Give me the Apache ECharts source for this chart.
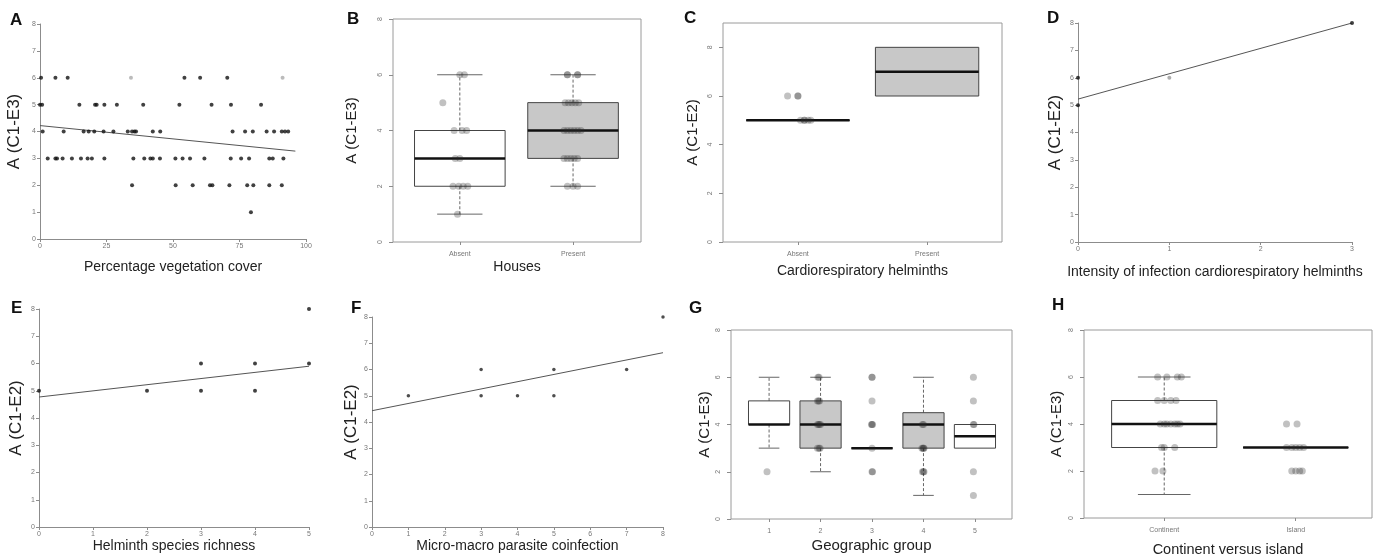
<!DOCTYPE html>
<html>
<head>
<meta charset="utf-8">
<script src="https://cdn.jsdelivr.net/npm/echarts@6/dist/echarts.min.js"></script>
<style>
  html, body { margin: 0; padding: 0; background: #fff; }
  #main { width: 1389px; height: 558px; }
</style>
</head>
<body>
<div id="main"></div>
<script>
// ---- data ----
// A: vegetation cover (%) vs A (C1-E3)
var aCover = [0.4, 5.8, 10.4, 54.3, 60.2, 70.4,
  0, 0.8, 14.8, 20.7, 21.3, 24.2, 28.9, 38.8, 52.4, 64.5, 71.8, 83.1,
  1.0, 8.9, 16.4, 18.3, 20.4, 23.9, 27.6, 33.0, 34.6, 35.5, 36.1, 42.4, 45.2, 72.4, 77.1, 80.0, 85.2, 88.0, 90.9, 92.1, 93.3,
  2.9, 5.8, 6.4, 8.5, 12.0, 15.4, 17.9, 19.5, 24.2, 35.1, 39.2, 41.5, 42.4, 45.1, 50.9, 53.6, 56.4, 61.8, 71.7, 75.6, 78.6, 86.2, 87.5, 91.5,
  34.6, 51.0, 57.4, 63.9, 64.8, 71.2, 77.9, 80.2, 86.2, 90.9,
  79.3];
var aScore = [6, 6, 6, 6, 6, 6,
  5, 5, 5, 5, 5, 5, 5, 5, 5, 5, 5, 5,
  4, 4, 4, 4, 4, 4, 4, 4, 4, 4, 4, 4, 4, 4, 4, 4, 4, 4, 4, 4, 4,
  3, 3, 3, 3, 3, 3, 3, 3, 3, 3, 3, 3, 3, 3, 3, 3, 3, 3, 3, 3, 3, 3, 3, 3,
  2, 2, 2, 2, 2, 2, 2, 2, 2, 2,
  1];
var aFaintCover = [34.2, 91.2];
var aFaintScore = [6, 6];
var aFit = [[0, 4.22], [96, 3.27]];

// B: houses
var bCats = ['Absent', 'Present'];
var bBox = [[1, 2, 3, 4, 6], [2, 3, 4, 5, 6]];   // min, q1, median, q3, max
var bDots = [
  [[0.0, 6], [0.04, 6], [-0.15, 5], [-0.05, 4], [0.02, 4], [0.06, 4], [-0.04, 3], [0.0, 3],
   [-0.06, 2], [-0.01, 2], [0.03, 2], [0.07, 2], [-0.02, 1]],
  [[-0.05, 6], [-0.05, 6], [0.04, 6], [0.04, 6], [-0.07, 5], [-0.04, 5], [-0.01, 5], [0.02, 5], [0.05, 5],
   [-0.08, 4], [-0.05, 4], [-0.02, 4], [0.01, 4], [0.04, 4], [0.07, 4],
   [-0.08, 3], [-0.05, 3], [-0.02, 3], [0.01, 3], [0.04, 3], [-0.05, 2], [0.0, 2], [0.04, 2]]
];

// C: cardiorespiratory helminths
var cCats = ['Absent', 'Present'];
var cBox = [[5, 5, 5, 5, 5], [6, 6, 7, 8, 8]];
var cDots = [
  [[-0.08, 6], [0.0, 6], [0.0, 6], [0.02, 5], [0.05, 5], [0.05, 5], [0.08, 5], [0.1, 5]],
  []
];

// D: intensity of infection
var dCount = [0, 0, 3];
var dScore = [5, 6, 8];
var dFaintCount = [1];
var dFaintScore = [6];
var dFit = [[0, 5.22], [3, 8.0]];

// E: helminth species richness
var eRich = [0, 2, 3, 3, 4, 4, 5, 5];
var eScore = [5, 5, 6, 5, 6, 5, 8, 6];
var eFit = [[0, 4.77], [5, 5.9]];

// F: micro-macro coinfection
var fCoinf = [1, 3, 3, 4, 5, 5, 7, 8];
var fScore = [5, 6, 5, 5, 6, 5, 6, 8];
var fFit = [[0, 4.43], [8, 6.64]];

// G: geographic group
var gCats = ['1', '2', '3', '4', '5'];
var gBox = [[3, 4, 4, 5, 6], [2, 3, 4, 5, 6], [3, 3, 3, 3, 3], [1, 3, 4, 4.5, 6], [3, 3, 3.5, 4, 4]];
var gDots = [
  [[-0.04, 2]],
  [[-0.05, 6], [-0.03, 6], [-0.06, 5], [-0.04, 5], [-0.02, 5], [-0.06, 4], [-0.04, 4], [-0.02, 4], [0.0, 4],
   [-0.06, 3], [-0.03, 3], [-0.01, 3]],
  [[0.0, 6], [0.0, 6], [0.0, 5], [-0.01, 4], [0.0, 4], [0.01, 4], [0.0, 3], [0.0, 2], [0.01, 2]],
  [[-0.02, 4], [0.0, 4], [-0.03, 3], [-0.01, 3], [0.0, 3], [0.01, 3], [-0.02, 2], [0.0, 2], [0.01, 2]],
  [[-0.03, 6], [-0.03, 5], [-0.03, 4], [-0.02, 4], [-0.03, 2], [-0.03, 1]]
];

// H: continent versus island
var hCats = ['Continent', 'Island'];
var hBox = [[1, 3, 4, 5, 6], [3, 3, 3, 3, 3]];
var hDots = [
  [[-0.05, 6], [0.02, 6], [0.1, 6], [0.13, 6], [-0.05, 5], [0.0, 5], [0.05, 5], [0.09, 5],
   [-0.03, 4], [0.0, 4], [0.02, 4], [0.05, 4], [0.08, 4], [0.1, 4], [0.12, 4],
   [-0.02, 3], [0.0, 3], [0.08, 3], [-0.07, 2], [-0.01, 2]],
  [[-0.07, 4], [0.01, 4], [-0.07, 3], [-0.03, 3], [0.0, 3], [0.03, 3], [0.06, 3],
   [-0.03, 2], [0.0, 2], [0.03, 2], [0.05, 2]]
];

// ---- helpers ----
var FONT = 'Liberation Sans, Arial, sans-serif';
var AXIS_GREY = '#8c8c8c';

function zip(xs, ys) {
  return xs.map(function (x, i) { return [x, ys[i]]; });
}

function plainAxis(gi, min, max, interval, name, gap, nameSize, extra) {
  var ax = {
    type: 'value', gridIndex: gi, min: min, max: max, interval: interval,
    splitLine: { show: false },
    axisLine: { show: true, lineStyle: { color: AXIS_GREY, width: 1 } },
    axisTick: { show: true, length: 3, lineStyle: { color: AXIS_GREY } },
    axisLabel: { fontSize: 7, color: '#777', fontFamily: FONT, margin: 4 },
    name: name, nameLocation: 'middle', nameGap: gap,
    nameTextStyle: { fontSize: nameSize, color: '#222', fontFamily: FONT }
  };
  return Object.assign(ax, extra || {});
}

function catAxis(gi, min, max, cats, name, gap, nameSize) {
  var ticks = cats.map(function (c, i) { return i + 1; });
  return {
    type: 'value', gridIndex: gi, min: min, max: max,
    splitLine: { show: false },
    axisLine: { show: false },
    axisTick: { show: true, length: 3, customValues: ticks, lineStyle: { color: AXIS_GREY } },
    axisLabel: {
      fontSize: 7, color: '#777', fontFamily: FONT, margin: 9, customValues: ticks,
      formatter: function (v) { return cats[Math.round(v) - 1] || ''; }
    },
    name: name, nameLocation: 'middle', nameGap: gap,
    nameTextStyle: { fontSize: nameSize, color: '#222', fontFamily: FONT }
  };
}

function boxYAxis(gi, max, name, gap, nameSize) {
  var ticks = [0, 2, 4, 6, 8];
  return {
    type: 'value', gridIndex: gi, min: 0, max: max,
    splitLine: { show: false },
    axisLine: { show: false },
    axisTick: { show: true, length: 4, customValues: ticks, lineStyle: { color: AXIS_GREY } },
    axisLabel: { fontSize: 7, color: '#777', fontFamily: FONT, margin: 9, rotate: 90, customValues: ticks },
    name: name, nameLocation: 'middle', nameGap: gap,
    nameTextStyle: { fontSize: nameSize, color: '#222', fontFamily: FONT }
  };
}

function boxSeries(gi, boxes, fills) {
  return {
    type: 'custom', xAxisIndex: gi, yAxisIndex: gi, z: 2,
    encode: { x: 0, y: [1, 2, 3, 4, 5] },
    data: boxes.map(function (b, i) { return [i + 1].concat(b); }),
    renderItem: function (params, api) {
      var x = api.value(0);
      var lo = api.coord([x, api.value(1)]);
      var q1 = api.coord([x, api.value(2)]);
      var md = api.coord([x, api.value(3)]);
      var q3 = api.coord([x, api.value(4)]);
      var hi = api.coord([x, api.value(5)]);
      var hw = api.size([0.8, 0])[0] / 2;
      var cx = md[0];
      var whisk = { stroke: '#666', lineWidth: 1, lineDash: [3, 2] };
      var cap = { stroke: '#666', lineWidth: 1 };
      var kids = [];
      if (api.value(5) > api.value(4)) {
        kids.push({ type: 'line', shape: { x1: cx, y1: q3[1], x2: cx, y2: hi[1] }, style: whisk });
        kids.push({ type: 'line', shape: { x1: cx - hw / 2, y1: hi[1], x2: cx + hw / 2, y2: hi[1] }, style: cap });
      }
      if (api.value(1) < api.value(2)) {
        kids.push({ type: 'line', shape: { x1: cx, y1: q1[1], x2: cx, y2: lo[1] }, style: whisk });
        kids.push({ type: 'line', shape: { x1: cx - hw / 2, y1: lo[1], x2: cx + hw / 2, y2: lo[1] }, style: cap });
      }
      kids.push({
        type: 'rect',
        shape: { x: cx - hw, y: q3[1], width: 2 * hw, height: Math.max(q1[1] - q3[1], 0) },
        style: { fill: fills[params.dataIndex], stroke: '#444', lineWidth: 1 }
      });
      kids.push({ type: 'line', shape: { x1: cx - hw, y1: md[1], x2: cx + hw, y2: md[1] },
        style: { stroke: '#111', lineWidth: 2.5 } });
      return { type: 'group', children: kids };
    }
  };
}

function dotSeries(gi, groups, size) {
  var pts = [];
  groups.forEach(function (g, i) {
    g.forEach(function (d) { pts.push([i + 1 + d[0], d[1]]); });
  });
  return {
    type: 'scatter', xAxisIndex: gi, yAxisIndex: gi, z: 3,
    symbol: 'circle', symbolSize: size, data: pts,
    itemStyle: { color: 'rgba(40,40,40,0.36)' }
  };
}

function pointSeries(gi, data, size, color) {
  return {
    type: 'scatter', xAxisIndex: gi, yAxisIndex: gi, z: 3,
    symbol: 'circle', symbolSize: size, data: data,
    itemStyle: { color: color }
  };
}

function fitSeries(gi, data) {
  return {
    type: 'line', xAxisIndex: gi, yAxisIndex: gi, z: 2,
    data: data, showSymbol: false, symbol: 'none',
    lineStyle: { color: '#555', width: 1 }
  };
}

function letter(t, x, y) {
  return { type: 'text', left: x, top: y,
    style: { text: t, fill: '#111', font: 'bold 17px ' + FONT } };
}

var frame = { show: true, borderColor: '#9a9a9a', borderWidth: 1, backgroundColor: '#fff' };

var chart = echarts.init(document.getElementById('main'));

var option = {
  animation: false,
  backgroundColor: '#fff',
  grid: [
    { left: 40, top: 24, width: 266, height: 215 },                       // A
    Object.assign({ left: 393, top: 19, width: 248, height: 223 }, frame), // B
    Object.assign({ left: 723, top: 23, width: 279, height: 219 }, frame), // C
    { left: 1078, top: 23, width: 274, height: 219 },                      // D
    { left: 39, top: 309, width: 270, height: 218 },                       // E
    { left: 372, top: 317, width: 291, height: 210 },                      // F
    Object.assign({ left: 731, top: 330, width: 281, height: 189 }, frame), // G
    Object.assign({ left: 1084, top: 330, width: 288, height: 191 }, frame) // H
  ],
  xAxis: [
    plainAxis(0, 0, 100, 25, 'Percentage vegetation cover', 21, 14),
    catAxis(1, 0.41, 2.6, bCats, 'Houses', 18, 14),
    catAxis(2, 0.42, 2.58, cCats, 'Cardiorespiratory helminths', 22, 14),
    plainAxis(3, 0, 3, 1, 'Intensity of infection cardiorespiratory helminths', 23, 14),
    plainAxis(4, 0, 5, 1, 'Helminth species richness', 11, 14),
    plainAxis(5, 0, 8, 1, 'Micro-macro parasite coinfection', 11, 14),
    catAxis(6, 0.26, 5.72, gCats, 'Geographic group', 19, 15),
    catAxis(7, 0.39, 2.58, hCats, 'Continent versus island', 24, 14.5)
  ],
  yAxis: [
    plainAxis(0, 0, 8, 1, 'A (C1-E3)', 17, 17),
    boxYAxis(1, 8, 'A (C1-E3)', 34, 15),
    boxYAxis(2, 9, 'A (C1-E2)', 23, 15),
    plainAxis(3, 0, 8, 1, 'A (C1-E2)', 14, 17),
    plainAxis(4, 0, 8, 1, 'A (C1-E2)', 14, 17),
    plainAxis(5, 0, 8, 1, 'A (C1-E2)', 9, 17),
    boxYAxis(6, 8, 'A (C1-E3)', 19, 15),
    boxYAxis(7, 8, 'A (C1-E3)', 20, 15)
  ],
  series: [
    // A
    fitSeries(0, aFit),
    pointSeries(0, zip(aCover, aScore), 4, '#111'),
    pointSeries(0, zip(aFaintCover, aFaintScore), 4, '#aaa'),
    // B
    boxSeries(1, bBox, ['#ffffff', '#c8c8c8']),
    dotSeries(1, bDots, 7),
    // C
    boxSeries(2, cBox, ['#ffffff', '#c8c8c8']),
    dotSeries(2, cDots, 7),
    // D
    fitSeries(3, dFit),
    pointSeries(3, zip(dCount, dScore), 4, '#111'),
    pointSeries(3, zip(dFaintCount, dFaintScore), 4, '#999'),
    // E
    fitSeries(4, eFit),
    pointSeries(4, zip(eRich, eScore), 4, '#111'),
    // F
    fitSeries(5, fFit),
    pointSeries(5, zip(fCoinf, fScore), 3.5, '#222'),
    // G
    boxSeries(6, gBox, ['#ffffff', '#c8c8c8', '#ffffff', '#c8c8c8', '#ffffff']),
    dotSeries(6, gDots, 7),
    // H
    boxSeries(7, hBox, ['#ffffff', '#ffffff']),
    dotSeries(7, hDots, 7)
  ],
  graphic: [
    letter('A', 10, 12), letter('B', 347, 11), letter('C', 684, 10), letter('D', 1047, 10),
    letter('E', 11, 300), letter('F', 351, 300), letter('G', 689, 300), letter('H', 1052, 297)
  ]
};

chart.setOption(option);
</script>
</body>
</html>
